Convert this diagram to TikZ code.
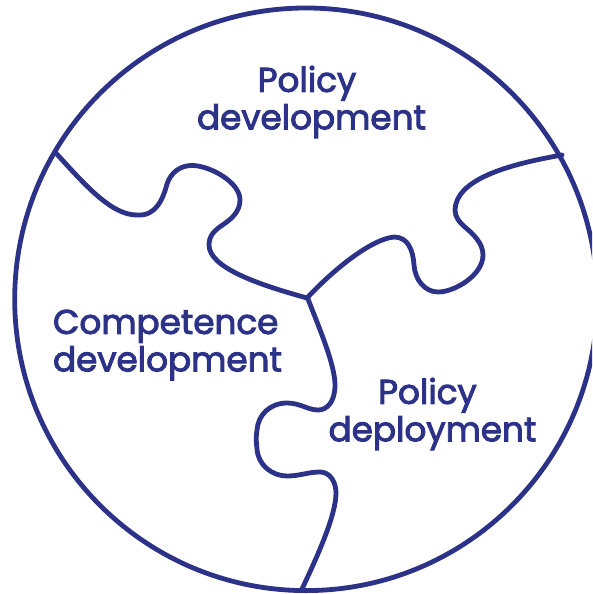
\documentclass[tikz,border=0pt]{standalone}
\usepackage{fontspec}
\setmainfont{Poppins}[RawFeature={embolden=2.8}]
\definecolor{navy}{RGB}{44,50,135}
\tikzset{
  outline/.style={draw=navy,line width=4.8pt,line cap=round,line join=round},
  label/.style={text=navy,font=\fontsize{34.2}{38.5}\selectfont,align=center,inner sep=0pt}
}
\begin{document}
\begin{tikzpicture}[x=1pt,y=-1pt]
\useasboundingbox (0,0) rectangle (592,594);
\clip (0,0) rectangle (592,594);
\draw[outline] (306,299.3) circle [radius=291.3pt];
\draw[outline] (55,152) .. controls (85,185) and (112,216) .. (138,215)
  .. controls (156,216) and (163,199) .. (167,184)
  .. controls (171,172) and (181,165) .. (193,165.5)
  .. controls (210,166) and (240,182) .. (240,200)
  .. controls (240,212) and (231,219) .. (224,224)
  .. controls (215,230) and (209,235) .. (209,245)
  .. controls (209,268) and (260,285) .. (307,298);
\draw[outline] (307,298) .. controls (335,268) and (372,239) .. (394,237)
  .. controls (408,237) and (413,250) .. (414,265)
  .. controls (415,280) and (425,292) .. (438,292)
  .. controls (455,292) and (483,275) .. (483,255)
  .. controls (483,243) and (473,234) .. (466,228)
  .. controls (459,222) and (455,217) .. (455,210)
  .. controls (456,180) and (505,165) .. (562,155);
\draw[outline] (308,299) .. controls (320,330) and (335,365) .. (335,385)
  .. controls (335,402) and (327,410) .. (318,410)
  .. controls (308,410) and (300,403) .. (287,403)
  .. controls (270,403) and (258,415) .. (257,430)
  .. controls (256,436) and (256,441) .. (257,449)
  .. controls (258,465) and (272,476) .. (287,476)
  .. controls (300,476) and (308,472) .. (320,472)
  .. controls (330,472) and (336,482) .. (336,493)
  .. controls (336,515) and (318,555) .. (302,589);
\node[label] (a) at (311.5,102) {Policy\hspace*{9pt}\\[-1pt]development};
\node[label,align=left] (b) at (167.5,345) {Competence\\[-1pt]development};
\node[label] (c) at (432.5,414) {Policy\hspace*{10pt}\\[-1pt]deployment};
\end{tikzpicture}
\end{document}
